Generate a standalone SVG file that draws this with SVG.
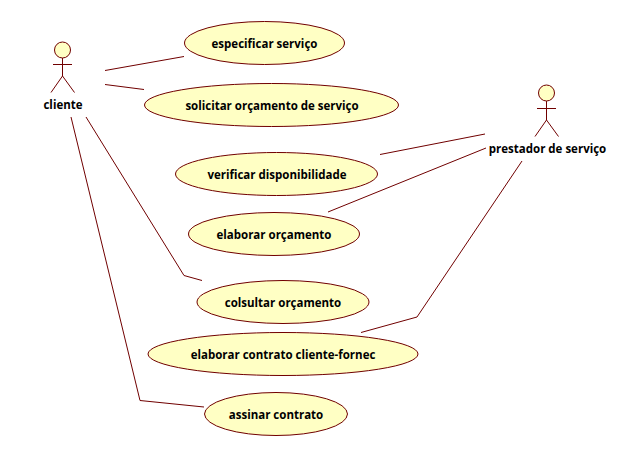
<svg xmlns="http://www.w3.org/2000/svg" width="630" height="456" viewBox="0 0 630 456">
<style>
.u{fill:#ffffc4;stroke:#700000;stroke-width:1}
.l{fill:none;stroke:#700000;stroke-width:1}
text{font-family:"Open Sans","Noto Sans",sans-serif;font-size:11.500px;font-weight:700;fill:#000;text-anchor:middle}
</style>
<rect width="630" height="456" fill="#fff"/>
<g id="connectors" class="l">
<path d="M105 70.500L184 56.500"/>
<path d="M105 84.500L144 89.500"/>
<path d="M380 154.500L485 134"/>
<path d="M328 212L486 148"/>
<path d="M86 117L184 275.500L202 280.500"/>
<path d="M71 117L140 400.500L204 407"/>
<path d="M522 161L417 317L361 332.500"/>
</g>
<g id="actor-cliente"><circle class="u" cx="62.500" cy="50" r="8"/><path class="l" d="M62.500 58V76M53 64.500H72M62.500 76L51 92.500M62.500 76L74.500 92.500"/><text x="63" y="109">cliente</text></g>
<g id="actor-prestador"><circle class="u" cx="546.500" cy="93" r="8"/><path class="l" d="M546.500 101V120M537 108.500H556M546.500 120L535 136.500M546.500 120L558.500 136.500"/><text x="547.500" y="153">prestador de serviço</text></g>
<g id="uc1"><ellipse class="u" cx="264.500" cy="43" rx="80" ry="21.500"/><text x="264.500" y="48">especificar serviço</text></g>
<g id="uc2"><ellipse class="u" cx="271.500" cy="105" rx="127" ry="21.500"/><text x="272" y="110">solicitar orçamento de serviço</text></g>
<g id="uc3"><ellipse class="u" cx="276.500" cy="174" rx="101" ry="21.500"/><text x="277" y="179">verificar disponibilidade</text></g>
<g id="uc4"><ellipse class="u" cx="274" cy="234" rx="85.500" ry="21.500"/><text x="274" y="239">elaborar orçamento</text></g>
<g id="uc5"><ellipse class="u" cx="283" cy="302" rx="86" ry="21.500"/><text x="283" y="307">colsultar orçamento</text></g>
<g id="uc6"><ellipse class="u" cx="283" cy="354" rx="135" ry="21.500"/><text x="283" y="359">elaborar contrato cliente-fornec</text></g>
<g id="uc7"><ellipse class="u" cx="276" cy="414" rx="71.500" ry="21.500"/><text x="276" y="419">assinar contrato</text></g>
</svg>
